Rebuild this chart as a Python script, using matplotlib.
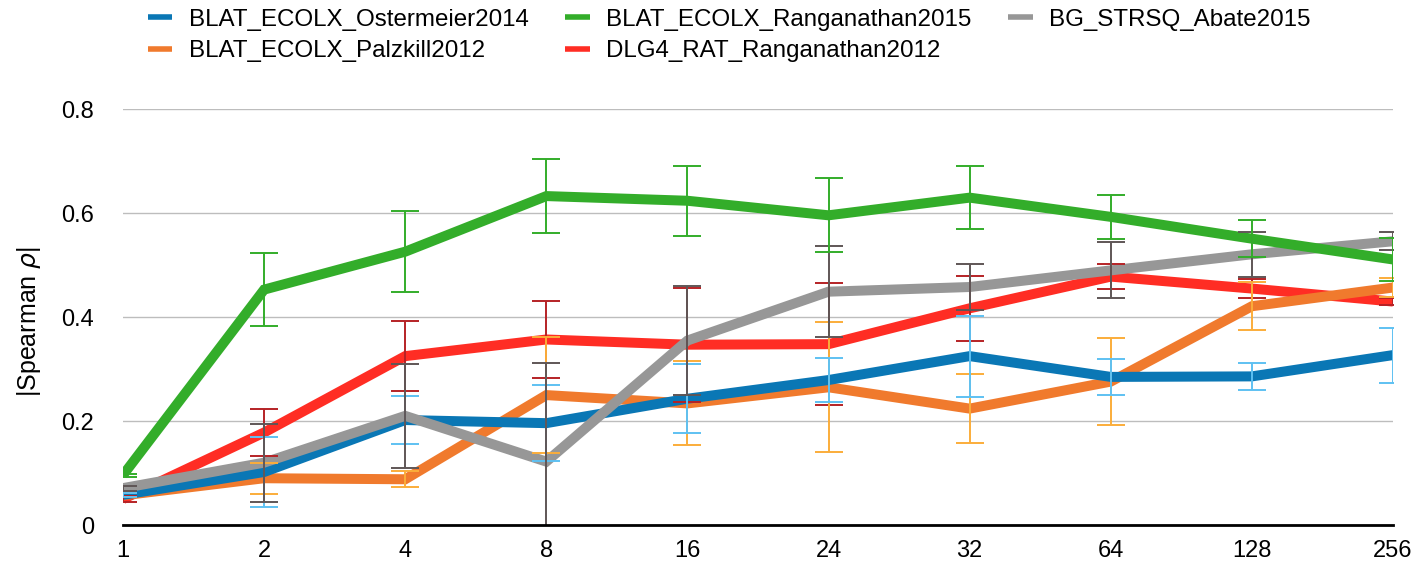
import matplotlib
matplotlib.use("Agg")
import matplotlib.pyplot as plt
import numpy as np

# x categories (evenly spaced)
x_labels = ['1', '2', '4', '8', '16', '24', '32', '64', '128', '256']

# series means
ostermeier = [0.058, 0.102, 0.202, 0.196, 0.243, 0.279, 0.325, 0.285, 0.286, 0.327]
palzkill = [0.057, 0.090, 0.088, 0.250, 0.234, 0.265, 0.224, 0.276, 0.421, 0.457]
ranganathan2015 = [0.096, 0.453, 0.526, 0.633, 0.624, 0.596, 0.630, 0.593, 0.551, 0.511]
dlg4 = [0.050, 0.178, 0.325, 0.357, 0.347, 0.348, 0.417, 0.478, 0.455, 0.430]
abate = [0.071, 0.120, 0.210, 0.122, 0.355, 0.449, 0.458, 0.490, 0.521, 0.546]

# error bar half-widths
ostermeier_err = [0.004, 0.067, 0.047, 0.073, 0.066, 0.042, 0.078, 0.034, 0.026, 0.053]
palzkill_err = [0.004, 0.030, 0.015, 0.111, 0.081, 0.125, 0.067, 0.084, 0.046, 0.019]
ranganathan2015_err = [0.003, 0.070, 0.078, 0.072, 0.067, 0.071, 0.061, 0.042, 0.035, 0.042]
dlg4_err = [0.005, 0.045, 0.068, 0.075, 0.110, 0.118, 0.062, 0.024, 0.018, 0.006]
abate_err = [0.005, 0.075, 0.100, 0.190, 0.104, 0.088, 0.045, 0.054, 0.043, 0.017]

names = ['BLAT_ECOLX_Ostermeier2014', 'BLAT_ECOLX_Palzkill2012',
         'BLAT_ECOLX_Ranganathan2015', 'DLG4_RAT_Ranganathan2012',
         'BG_STRSQ_Abate2015']

plt.rcParams['font.family'] = ['Liberation Sans', 'DejaVu Sans']
FS = 17

# name -> (values, errors, line colour, error bar colour, zorder)
series = {
    names[0]: (ostermeier, ostermeier_err, '#0a77b5', '#5ec1f2', 4),
    names[1]: (palzkill, palzkill_err, '#f07a2d', '#fbad3a', 3),
    names[2]: (ranganathan2015, ranganathan2015_err, '#33ad2a', '#33ad2a', 6),
    names[3]: (dlg4, dlg4_err, '#ff2d24', '#b52226', 2),
    names[4]: (abate, abate_err, '#979797', '#5f5656', 5),
}

fig = plt.figure(figsize=(14.28, 5.72), dpi=100)
ax = fig.add_axes([123 / 1428, 47 / 572, 1270 / 1428, 415.7 / 572])

xs = np.arange(len(x_labels))

# Draw lines
handles = []
for name in names:
    vals, errs, color, ecolor, z = series[name]
    line, = ax.plot(xs, vals, color=color, lw=7.2, zorder=z,
                    solid_joinstyle='miter', solid_capstyle='butt', label=name)
    handles.append(line)

# Draw error bars on top of every line
for name in names:
    vals, errs, color, ecolor, z = series[name]
    ax.errorbar(xs, vals, yerr=errs, fmt='none', ecolor=ecolor,
                elinewidth=1.4, capsize=10, capthick=1.4, zorder=10 + z)

ax.set_xlim(0, len(x_labels) - 1)
ax.set_ylim(0, 0.8)
ax.set_xticks(xs)
ax.set_xticklabels(x_labels)
ax.set_yticks([0, 0.2, 0.4, 0.6, 0.8])
ax.set_yticklabels(['0', '0.2', '0.4', '0.6', '0.8'])
ax.tick_params(axis='both', length=0, labelsize=FS)
ax.tick_params(axis='y', pad=21)
ax.tick_params(axis='x', pad=11)

ax.grid(axis='y', color='#bdbdbd', lw=1)
ax.set_axisbelow(True)
for side in ['left', 'right', 'top']:
    ax.spines[side].set_visible(False)
ax.spines['bottom'].set_color('black')
ax.spines['bottom'].set_linewidth(2)
ax.spines['bottom'].set_zorder(20)

ax.set_ylabel(r'|Spearman $\rho$|', fontsize=18)
ax.yaxis.set_label_coords(-0.063, 0.49)

leg = fig.legend(handles=handles, loc='upper left', bbox_to_anchor=(148 / 1428, 0.985),
                 ncol=3, frameon=False, fontsize=17.4, handlelength=1.0,
                 handletextpad=0.68, columnspacing=1.53, labelspacing=0.39,
                 borderpad=0, borderaxespad=0)
for h in leg.get_lines():
    h.set_linewidth(4)

fig.savefig('out.png', dpi=100)
